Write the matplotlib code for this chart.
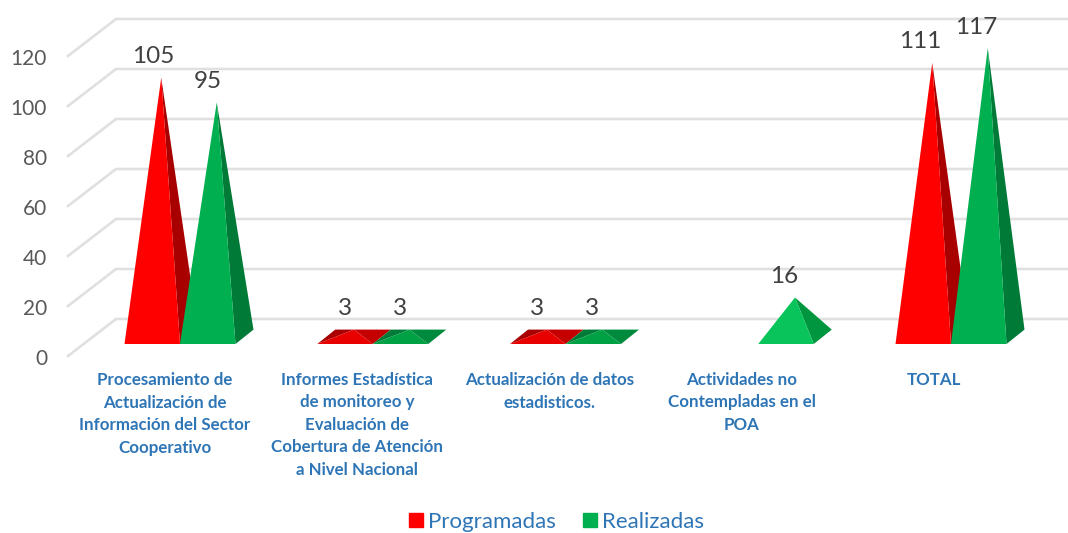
import matplotlib
matplotlib.use("Agg")
import matplotlib.pyplot as plt
from matplotlib.patches import Patch, Polygon

W, H = 1068, 533
FONT = ["Lato", "DejaVu Sans"]

categories = [
    "Procesamiento de\nActualización de\nInformación del Sector\nCooperativo",
    "Informes Estadística\nde monitoreo y\nEvaluación de\nCobertura de Atención\na Nivel Nacional",
    "Actualización de datos\nestadisticos.",
    "Actividades no\nContempladas en el\nPOA",
    "TOTAL",
]
programadas = [105, 3, 3, None, 111]
realizadas = [95, 3, 3, 16, 117]
y_ticks = [0, 20, 40, 60, 80, 100, 120]
series_names = ["Programadas", "Realizadas"]

RED = ("#FF0000", "#A80000")
GREEN = ("#00B050", "#007A37")
GRID = "#E0E0E0"
TXT_BLUE = "#2E75B6"

# layout: value 0 sits at pixel row 337, one unit is 2.47 px; category step 192.75 px
X0, STEP, Y0, UNIT = 180.0, 192.75, 337.0, 2.47
BAR = 55.5 / STEP
DX, DY = 18 / STEP, 14.4 / UNIT      # depth of the floor
BASE_FRONT = -7 / UNIT

fig = plt.figure(figsize=(W / 100, H / 100), dpi=100)
ax = fig.add_axes([0, 0, 1, 1])
ax.set_xlim((0 - X0) / STEP, (W - X0) / STEP)
ax.set_ylim((Y0 - H) / UNIT, Y0 / UNIT)
ax.axis("off")


def back_y(v):
    return (Y0 - 319 + 2.5 * v) / UNIT


# gridlines on back wall and side wall
for v in y_ticks:
    yb = back_y(v)
    xl = (116 - X0) / STEP
    ax.plot([(68 - X0) / STEP, xl, (W - X0) / STEP], [yb - 37 / UNIT, yb, yb],
            color=GRID, lw=1.9, solid_joinstyle="miter", zorder=1)
    ax.text((47 - X0) / STEP, yb - 40 / UNIT, str(v), ha="right", va="center",
            fontsize=15, color="#595959", family=FONT)


def pyramid(i, offset, v, cols, z):
    left = i + offset
    right = left + BAR
    cx = left + BAR / 2 + DX / 2
    f, b = BASE_FRONT, BASE_FRONT + DY
    apex = (cx, v)
    front, side = cols
    if v < 10:  # nearly flat: the rear faces show from above
        ax.add_patch(Polygon([(left, f), (left + DX, b), apex], color=side, lw=0, zorder=z))
        ax.add_patch(Polygon([(left + DX, b), (right + DX, b), apex], color=side, lw=0, zorder=z))
        front = {"#FF0000": "#E80000", "#00B050": "#00A045"}[front]
        side = {"#A80000": "#C40000", "#007A37": "#008A3D"}[side]
    elif v < 30:
        front, side = "#08C45A", "#009640"
    ax.add_patch(Polygon([(right, f), (right + DX, b), apex], color=side, lw=0, zorder=z))
    ax.add_patch(Polygon([(left, f), (right, f), apex], color=front, lw=0, zorder=z + .1))
    ax.text(left + BAR / 2 + (0.5 - 0.85 * i) / STEP, v + 21 / UNIT, str(v), ha="center", va="center",
            fontsize=17.5, color="#404040", family=FONT, zorder=9)


for i, (p, r) in enumerate(zip(programadas, realizadas)):
    # draw red first, green sits in front of red's side face
    if p is not None:
        pyramid(i, -BAR, p, RED, 3)
    if r is not None:
        pyramid(i, 0, r, GREEN, 4)
    ax.text(i - (15 + 0.5 * i) / STEP, (Y0 - 372) / UNIT, categories[i], ha="center", va="top",
            fontsize=12.2, fontweight="bold", color=TXT_BLUE, family=FONT,
            linespacing=1.5, zorder=9)

handles = [Patch(color=RED[0], label=series_names[0]), Patch(color=GREEN[0], label=series_names[1])]
leg = ax.legend(handles=handles, ncol=2, loc="center", frameon=False,
                bbox_to_anchor=(556.5 / W, 1 - 522 / H), bbox_transform=fig.transFigure,
                prop={"family": FONT, "size": 16}, labelcolor=TXT_BLUE,
                handlelength=0.63, handleheight=0.63, handletextpad=0.22, columnspacing=1.2)

fig.savefig("out.png", dpi=100, facecolor="white")
